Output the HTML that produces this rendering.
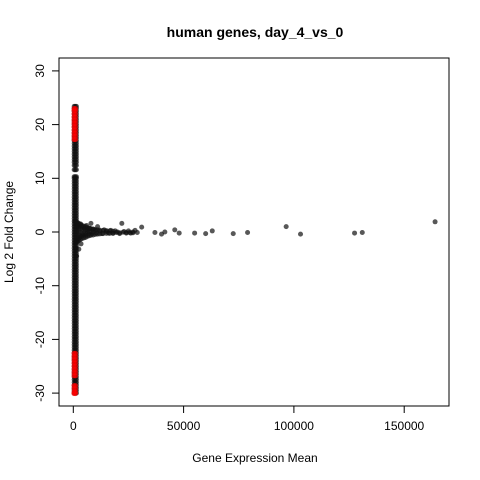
<!DOCTYPE html>
<html><head><meta charset="utf-8"><style>
body{margin:0;background:#fff}
svg{display:block;font-family:"Liberation Sans",Arial,sans-serif}
</style></head><body>
<svg id="chart" width="480" height="480" viewBox="0 0 480 480" xmlns="http://www.w3.org/2000/svg">
<text x="255" y="37" text-anchor="middle" font-size="14" font-weight="bold">human genes, day_4_vs_0</text>
<rect x="59" y="58" width="390" height="348" fill="none" stroke="#000" stroke-width="1"/>
<g id="xaxis"></g>
<g id="yaxis"></g>
<text x="255" y="462" text-anchor="middle" font-size="12">Gene Expression Mean</text>
<text transform="translate(13,232) rotate(-90)" text-anchor="middle" font-size="12">Log 2 Fold Change</text>
<g id="points"></g>
</svg>
<script>
const xTicks=[0,50000,100000,150000];
const yTicks=[-30,-20,-10,0,10,20,30];
const colY=[-30.0,-29.5,-29.0,-28.5,-28.0,-27.5,-27.0,-26.5,-26,-25.5,-25,-24.5,-24,-23.5,-23,-22.5,-22,-21.5,-21,-20.5,-20,-19.5,-19,-18.5,-18,-17.5,-17,-16.5,-16,-15.5,-15,-14.5,-14,-13.5,-13,-12.5,-12,-11.5,-11,-10.5,-10,-9.5,-9,-8.5,-8,-7.5,-7,-6.5,-6,-5.5,-5,-4.5,-4,-3.5,-3,-2.5,-2,-1.5,-1,-0.5,0,0.5,1,1.5,2,2.5,3,3.5,4,4.5,5,5.5,6,6.5,7,7.5,8,8.5,9,9.5,10,10.3,11.6,12.4,13,13.5,14,14.5,15,15.5,16,16.5,17,17.5,18,18.5,19,19.5,20,20.5,21,21.5,22,22.5,23,23.4];
const colX=[400,900,1400];
const redY=[17.2,17.8,18.4,19,19.6,20.2,20.8,21.4,22,22.6,23,-22.6,-23.2,-23.8,-24.4,-25,-25.6,-26.2,-26.8,-28.6,-29.2,-29.8,-30.1];
const fanX=[800,1200,1500,1800,2000,2300,2600,3000,3300,3600,4000,4500,5000,5500,6000,6500,7000,7500,8000,8500,9000,10000,10500,11000,12000,13000,14000,15000,16000,17000,18000,19000,20000,21000,22000,23000,24000,25000,26000,27000,28000,31000,37000,40000,41500,46000,48000,55000,60000,63000,72500,79000,96500,103000,127500,131000,164000,1000,1500,2500,3500];
const fanY=[2.0,-2.0,1.6,-1.6,1.3,-1.2,1.0,-1.0,1.5,-0.8,1.0,-0.6,0.7,-0.6,1.2,0.4,-0.4,0.7,1.6,-0.3,0.5,0.3,-0.2,1.0,0.2,-0.3,0.4,0.1,-0.2,0.3,-0.2,0.2,0.0,-0.3,1.6,0.1,-0.1,0.2,-0.2,0.0,0.3,0.9,-0.1,-0.4,0.0,0.4,-0.2,-0.2,-0.3,0.2,-0.3,-0.1,1.0,-0.4,-0.2,-0.1,1.9,-3.0,-4.5,-3.2,-2.2];
const wedgeX=[1800,1800,1800,1800,1800,2500,2500,2500,2500,2500,3200,3200,3200,3200,3200,4000,4000,4000,4000,4800,4800,4800,4800,5600,5600,5600,5600,6400,6400,6400,7200,7200,7200,8000,8000,8000,9000,9000,9000,10000,10000,11000,11000,12000,12000,13500,13500,15000,15000,16500,16500,18000,18000,19500,21000,22500,24000,25500,27000,29000];
const wedgeY=[1.8,0.9,0,-0.9,-1.8,1.6,0.8,0,-0.8,-1.6,1.4,0.7,0,-0.7,-1.4,1.2,0.4,-0.4,-1.2,1.1,0.35,-0.35,-1.1,1.0,0.3,-0.3,-1.0,0.8,0,-0.8,0.7,0,-0.7,0.6,0,-0.6,0.55,0,-0.55,0.45,-0.45,0.4,-0.4,0.35,-0.35,0.3,-0.3,0.25,-0.25,0.2,-0.25,0.15,-0.25,-0.1,-0.15,-0.05,-0.2,-0.1,-0.15,-0.1];
const X0=73.3,XS=110.3/50000,Y0=232,YS=5.37;
function sx(v){return X0+v*XS}
function sy(v){return Y0-v*YS}
const NS="http://www.w3.org/2000/svg";
const xa=document.getElementById('xaxis'),ya=document.getElementById('yaxis'),pts=document.getElementById('points');
function mk(t,a){const e=document.createElementNS(NS,t);for(const k in a)e.setAttribute(k,a[k]);return e}
xTicks.forEach(v=>{
 const l=mk('line',{x1:sx(v),x2:sx(v),y1:406,y2:413,stroke:'#000'});
 
 
 xa.appendChild(l);
 const t=mk('text',{x:sx(v),y:430,'text-anchor':'middle','font-size':'12'});
 
 
 t.textContent=v;xa.appendChild(t);
});
yTicks.forEach(v=>{
 const l=mk('line',{x1:52,x2:59,y1:sy(v),y2:sy(v),stroke:'#000'});
 
 
 ya.appendChild(l);
 const t=mk('text',{transform:`translate(44,${sy(v)}) rotate(-90)`,'text-anchor':'middle','font-size':'12'});
 
 
 t.textContent=v;ya.appendChild(t);
});
function dot(x,y,c){
 const d=mk('circle',{cx:sx(x),cy:sy(y),r:2.5,fill:c,'fill-opacity':0.7});
 
 
 pts.appendChild(d);
}
colY.forEach((y,i)=>colX.forEach(x=>dot(x,y,'#111')));
fanX.forEach((x,i)=>dot(x,fanY[i],'#111'));
wedgeX.forEach((x,i)=>dot(x,wedgeY[i],'#111'));
redY.forEach(y=>{dot(300,y,'#ff0000');dot(1000,y,'#ff0000')});
</script>
</body></html>
